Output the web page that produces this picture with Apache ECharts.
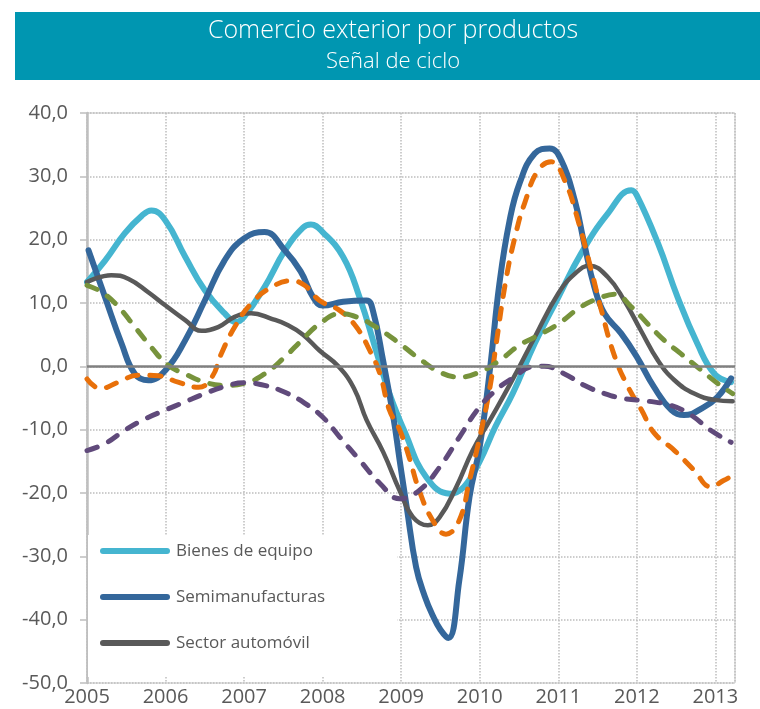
<!DOCTYPE html>
<html>
<head>
<meta charset="utf-8">
<script src="https://cdn.jsdelivr.net/npm/echarts@6/dist/echarts.min.js"></script>
<style>
html,body{margin:0;padding:0;background:#fff;}
#c{width:760px;height:709px;}
</style>
</head>
<body>
<div id="c"></div>
<script>
// ---- Data (years as decimal, values in %) ----
const titleMain = 'Comercio exterior por productos';
const titleSub = 'Señal de ciclo';
const yTicks = [-50, -40, -30, -20, -10, 0, 10, 20, 30, 40];
const xTicks = [2005, 2006, 2007, 2008, 2009, 2010, 2011, 2012, 2013];

const bienesX = [2005.0, 2005.23, 2005.48, 2005.7, 2005.82, 2006.0, 2006.25, 2006.5, 2006.75, 2006.9, 2007.0, 2007.26, 2007.52, 2007.75, 2007.85, 2008.0, 2008.26, 2008.47, 2008.68, 2008.85, 2009.05, 2009.32, 2009.62, 2009.8, 2010.0, 2010.2, 2010.42, 2010.7, 2011.0, 2011.29, 2011.63, 2011.93, 2012.0, 2012.27, 2012.52, 2012.77, 2012.99, 2013.2];
const bienesY = [13.3, 16.7, 21.0, 23.8, 24.6, 23.0, 17.3, 12.0, 8.4, 7.0, 7.8, 12.5, 18.3, 21.9, 22.4, 21.2, 17.3, 10.9, 2.5, -4.3, -10.5, -17.5, -20.1, -19.0, -15.0, -9.5, -4.3, 3.6, 10.9, 17.8, 24.1, 27.8, 27.0, 19.4, 10.9, 3.6, -1.2, -2.5];

const semiX = [2005.02, 2005.23, 2005.44, 2005.61, 2005.78, 2006.0, 2006.25, 2006.5, 2006.75, 2007.0, 2007.26, 2007.52, 2007.72, 2007.88, 2008.0, 2008.26, 2008.56, 2008.64, 2008.77, 2008.9, 2008.98, 2009.07, 2009.19, 2009.3, 2009.4, 2009.5, 2009.6, 2009.74, 2009.87, 2010.0, 2010.13, 2010.25, 2010.38, 2010.51, 2010.7, 2010.89, 2011.04, 2011.21, 2011.33, 2011.46, 2011.59, 2011.8, 2012.0, 2012.22, 2012.44, 2012.6, 2012.86, 2013.03, 2013.2];
const semiY = [18.3, 10.9, 3.6, -1.2, -2.2, -0.6, 4.1, 10.4, 16.7, 20.2, 21.2, 18.3, 15.0, 10.9, 9.6, 10.2, 10.4, 8.8, 0.9, -8.0, -14.8, -22.2, -31.7, -36.3, -39.3, -41.6, -42.9, -33.8, -20.6, -12.7, -0.5, 13.0, 23.0, 29.0, 33.6, 34.4, 32.5, 26.2, 19.4, 12.5, 8.3, 5.2, 1.5, -3.3, -6.9, -7.7, -6.4, -4.8, -1.9];

const autoX = [2005.0, 2005.31, 2005.53, 2005.78, 2006.0, 2006.25, 2006.46, 2006.67, 2006.88, 2007.09, 2007.35, 2007.56, 2007.75, 2007.96, 2008.2, 2008.4, 2008.56, 2008.77, 2008.98, 2009.15, 2009.34, 2009.49, 2009.7, 2009.91, 2010.13, 2010.4, 2010.7, 2011.0, 2011.21, 2011.4, 2011.63, 2011.84, 2012.05, 2012.27, 2012.48, 2012.73, 2012.99, 2013.22];
const autoY = [13.3, 14.4, 13.8, 11.7, 9.6, 7.3, 5.6, 6.2, 7.8, 8.4, 7.5, 6.5, 5.0, 2.5, 0.0, -3.5, -8.5, -13.5, -19.6, -23.8, -25.1, -23.8, -19.1, -13.3, -8.5, -2.5, 4.6, 11.5, 14.6, 15.9, 14.1, 10.4, 5.7, 0.9, -2.2, -4.3, -5.3, -5.5];

const orangeX = [2005.0, 2005.17, 2005.4, 2005.65, 2005.91, 2006.16, 2006.42, 2006.59, 2006.71, 2006.88, 2007.09, 2007.35, 2007.6, 2007.77, 2007.96, 2008.22, 2008.43, 2008.6, 2008.73, 2008.85, 2008.98, 2009.1, 2009.23, 2009.4, 2009.57, 2009.74, 2009.87, 2010.0, 2010.13, 2010.21, 2010.34, 2010.47, 2010.57, 2010.74, 2010.91, 2011.08, 2011.25, 2011.42, 2011.55, 2011.72, 2011.89, 2012.06, 2012.22, 2012.48, 2012.73, 2012.94, 2013.11, 2013.22];
const orangeY = [-2.0, -3.5, -2.5, -1.4, -1.5, -2.5, -3.3, -1.7, 2.0, 6.2, 9.9, 12.5, 13.5, 12.8, 10.4, 8.8, 6.2, 2.5, -1.2, -6.9, -10.0, -14.3, -19.6, -24.3, -26.5, -24.3, -18.0, -11.2, -3.3, 3.6, 14.1, 21.5, 25.7, 30.9, 32.3, 29.4, 23.1, 15.2, 8.8, 1.5, -3.3, -6.9, -10.5, -13.3, -16.4, -19.0, -18.0, -17.2];

const greenX = [2005.0, 2005.19, 2005.4, 2005.61, 2005.82, 2006.03, 2006.25, 2006.5, 2006.75, 2007.0, 2007.26, 2007.52, 2007.74, 2007.96, 2008.22, 2008.43, 2008.68, 2008.98, 2009.23, 2009.49, 2009.74, 2010.0, 2010.25, 2010.5, 2010.7, 2011.0, 2011.29, 2011.55, 2011.72, 2011.93, 2012.14, 2012.35, 2012.56, 2012.82, 2013.03, 2013.22];
const greenY = [12.8, 11.7, 9.4, 6.2, 3.0, 0.2, -1.2, -2.5, -3.0, -2.7, -1.2, 1.5, 4.2, 6.7, 8.3, 7.8, 6.2, 3.6, 1.2, -0.9, -1.7, -0.9, 0.9, 3.3, 4.6, 6.7, 9.4, 10.9, 11.4, 9.4, 6.7, 4.1, 2.0, -0.6, -2.7, -4.3];

const purpleX = [2005.0, 2005.23, 2005.48, 2005.74, 2006.0, 2006.25, 2006.5, 2006.75, 2007.0, 2007.26, 2007.52, 2007.77, 2008.0, 2008.22, 2008.47, 2008.73, 2008.98, 2009.23, 2009.49, 2009.74, 2010.0, 2010.25, 2010.44, 2010.65, 2010.82, 2011.08, 2011.33, 2011.59, 2011.84, 2012.14, 2012.44, 2012.69, 2012.94, 2013.2];
const purpleY = [-13.3, -12.2, -10.1, -8.3, -6.9, -5.6, -4.3, -3.2, -2.6, -3.0, -4.1, -5.8, -8.0, -11.2, -14.8, -18.5, -20.9, -19.6, -15.9, -11.2, -6.4, -3.3, -1.7, -0.1, 0.0, -1.2, -3.0, -4.3, -5.1, -5.5, -6.2, -7.7, -10.1, -12.0];

const seriesNames = ['Bienes de equipo', 'Semimanufacturas', 'Sector automóvil', 'Serie 4', 'Serie 5', 'Serie 6'];
const legendNames = ['Bienes de equipo', 'Semimanufacturas', 'Sector automóvil'];

function zip(xs, ys) { return xs.map((x, i) => [x, ys[i]]); }

const FONT = '"Open Sans", "Noto Sans", sans-serif';
const TXT = '#595959';

function solid(name, xs, ys, color, width) {
  return {
    name, type: 'line', data: zip(xs, ys), smooth: 0.45, showSymbol: false, symbol: 'none',
    lineStyle: { color, width, cap: 'round', join: 'round' }, itemStyle: { color }
  };
}
function dashed(name, xs, ys, color) {
  return {
    name, type: 'line', data: zip(xs, ys), smooth: 0.45, showSymbol: false, symbol: 'none',
    lineStyle: { color, width: 5, type: [11, 12], cap: 'round', join: 'round' }, itemStyle: { color }
  };
}

const series = [
  solid(seriesNames[0], bienesX, bienesY, '#45B5D0', 6),
  solid(seriesNames[1], semiX, semiY, '#34679B', 6),
  solid(seriesNames[2], autoX, autoY, '#595959', 4.5),
  dashed(seriesNames[3], orangeX, orangeY, '#E8700A'),
  dashed(seriesNames[4], greenX, greenY, '#77933C'),
  dashed(seriesNames[5], purpleX, purpleY, '#604A7B')
];
series[0].markLine = {
  silent: true, symbol: ['none', 'none'], label: { show: false },
  lineStyle: { color: '#808080', width: 2.5, type: 'solid' },
  data: [{ yAxis: 0 }], animation: false
};

const chart = echarts.init(document.getElementById('c'), null, { renderer: 'canvas' });
chart.setOption({
  animation: false,
  backgroundColor: '#fff',
  graphic: [
    { type: 'rect', shape: { x: 15, y: 12, width: 745, height: 68 }, style: { fill: '#0096B1' }, z: 0 },
    { type: 'text', x: 393, y: 31, style: { text: titleMain, fill: '#fff', font: '300 25px ' + FONT, textAlign: 'center', textVerticalAlign: 'middle' }, z: 1 },
    { type: 'text', x: 393, y: 62, style: { text: titleSub, fill: '#fff', font: '300 22px ' + FONT, textAlign: 'center', textVerticalAlign: 'middle' }, z: 1 }
  ],
  grid: { left: 87, right: 25, top: 113, bottom: 26, show: true, borderColor: '#C4C4C4', borderWidth: 1, backgroundColor: 'transparent' },
  legend: {
    data: legendNames, orient: 'vertical', left: 88, top: 535,
    backgroundColor: '#fff', padding: [6, 72, 24, 12], itemGap: 26,
    itemWidth: 70, itemHeight: 6,
    icon: 'path://M3,0 L67,0 A3,3 0 0 1 67,6 L3,6 A3,3 0 0 1 3,0 Z',
    textStyle: { color: TXT, fontSize: 17, fontFamily: FONT, lineHeight: 20, padding: [0, 0, 0, 1] },
    selectedMode: false
  },
  xAxis: {
    type: 'value', min: 2005, max: 2013.25, interval: 1,
    axisLine: { show: false }, axisTick: { show: false },
    axisLabel: {
      color: TXT, fontSize: 20, fontFamily: FONT, margin: 4, showMaxLabel: false,
      formatter: v => (Math.abs(v - Math.round(v)) < 1e-6 && xTicks.indexOf(Math.round(v)) >= 0) ? String(Math.round(v)) : ''
    },
    splitLine: { show: true, lineStyle: { color: '#BDBDBD', type: 'dotted', width: 1.5 } }
  },
  yAxis: {
    type: 'value', min: yTicks[0], max: yTicks[yTicks.length - 1], interval: 10,
    axisLine: { show: true, onZero: false, lineStyle: { color: '#BFBFBF', width: 2.5 } },
    axisTick: { show: true, length: 7, lineStyle: { color: '#BFBFBF', width: 1.5 } },
    axisLabel: { color: TXT, fontSize: 20, fontFamily: FONT, margin: 19, formatter: v => v.toFixed(1).replace('.', ',') },
    splitLine: { show: true, lineStyle: { color: '#BDBDBD', type: 'dotted', width: 1.5 } }
  },
  series
});
</script>
</body>
</html>
